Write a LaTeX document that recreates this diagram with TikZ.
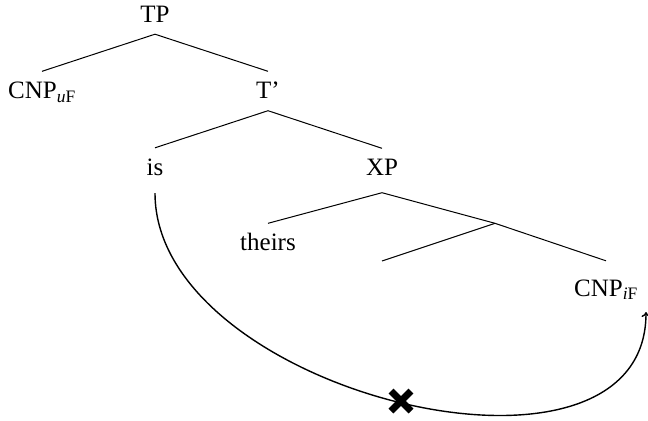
\documentclass[tikz,border=0pt]{standalone}
\usepackage{fontspec}
\setmainfont{Liberation Serif}
\usetikzlibrary{arrows.meta}
\begin{document}
\begin{tikzpicture}[x=1bp,y=-1bp]
% tree drawn at coordinates, bp from top left corner
\tikzset{lbl/.style={inner xsep=0pt,inner ysep=10bp,text height=17bp,text depth=2bp,
  anchor=base,font=\fontsize{25bp}{30bp}\selectfont},
  branch/.style={line width=1bp},
  movearrow/.style={line width=1.4bp,-{To[length=5bp,width=9bp]}},
  blockmark/.style={line width=7bp}}
\useasboundingbox (0,0) rectangle (648,420);
\node[lbl] (TP) at (155,22) {TP};
\node[lbl] (CNPu) at (42,98.5) {CNP\textsubscript{\textit{u}F}};
\node[lbl] (Tbar) at (268,98.5) {T'};
\draw[branch] (TP.south) -- (CNPu.north);
\draw[branch] (TP.south) -- (Tbar.north);
\node[lbl] (is) at (155,175) {is};
\node[lbl,text depth=7bp] (XP) at (382,175.5) {XP};
\draw[branch] (Tbar.south) -- (is.north);
\draw[branch] (Tbar.south) -- (XP.north);
\node[lbl] (theirs) at (268,250.5) {theirs};
\coordinate (Xbar) at (495,223.3);
\draw[branch] (XP.south) -- (theirs.north);
\draw[branch] (XP.south) -- (Xbar);
\coordinate (gap) at (382,261);
\node[lbl,text height=25bp] (CNPi) at (606,296) {CNP\textsubscript{\textit{i}F}};
\draw[branch] (Xbar) -- (gap);
\draw[branch] (Xbar) -- (CNPi.north);
% movement arrow, blocked
\coordinate (land) at (646,312);
\draw[movearrow] (is.south) ++(0,6) .. controls +(0,200) and +(0,200) .. (land);
\coordinate (blk) at (401,401);
\draw[blockmark] (blk) ++(-10,-10) -- ++(20,20);
\draw[blockmark] (blk) ++(-10,10) -- ++(20,-20);
\end{tikzpicture}
\end{document}
